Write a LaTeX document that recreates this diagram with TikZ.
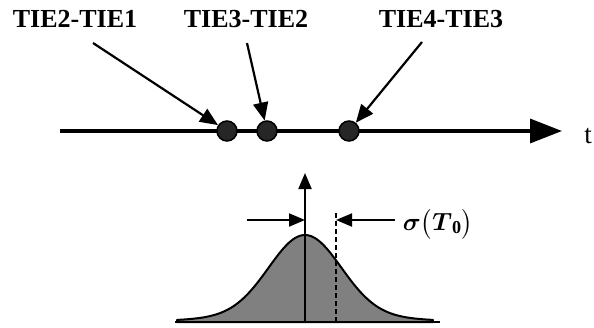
\documentclass[tikz,border=0pt]{standalone}
\usepackage{amsmath}
\usepackage{fontspec}
\setmainfont{Liberation Serif}
\usetikzlibrary{arrows.meta}

\begin{document}
\begin{tikzpicture}[x=1pt,y=-1pt,
    tielabel/.style={font=\fontsize{26}{28}\selectfont\bfseries},
    tiedot/.style={circle,draw=black,fill=black!85,line width=1.5pt,
                   inner sep=0pt,minimum size=20pt},
    pointer/.style={line width=2.2pt,-{Triangle[length=18pt,width=15pt]}},
    timeaxis/.style={line width=3.5pt,-{Triangle[length=32pt,width=24pt]}},
    sigarrow/.style={line width=2pt,-{Triangle[length=16pt,width=13pt]}}]
    \useasboundingbox (0,0) rectangle (594,327);

    % time axis with the three differences
    \coordinate (tstart) at (60,131);
    \coordinate (tend) at (562,131);
    \draw[timeaxis] (tstart) -- (tend);
    \node[font=\fontsize{27}{28}\selectfont] (tlabel) at (588,136) {t};

    \node[tiedot] (dot1) at (227,131) {};
    \node[tiedot] (dot2) at (267,131) {};
    \node[tiedot] (dot3) at (349,131) {};

    \node[tielabel] (lab1) at (75,19) {TIE2-TIE1};
    \node[tielabel] (lab2) at (246,19) {TIE3-TIE2};
    \node[tielabel] (lab3) at (441,19) {TIE4-TIE3};

    \coordinate (tail1) at (93,43);
    \coordinate (tail2) at (247,43);
    \coordinate (tail3) at (422,42);
    \draw[pointer] (tail1) -- (dot1);
    \draw[pointer] (tail2) -- (dot2);
    \draw[pointer] (tail3) -- (dot3);

    % distribution of the differences
    \draw[fill=black!50,line width=2pt,line join=round]
        (177,322) -- plot[domain=-3.2:3.2,samples=81,smooth]
        ({305+40*\x},{322-(80*exp(-0.617*\x*\x)+7*exp(-0.125*\x*\x))})
        -- (433,322) -- cycle;
    \coordinate (bleft) at (175,322);
    \coordinate (bright) at (440,322);
    \draw[line width=2.5pt] (bleft) -- (bright);

    \coordinate (vbase) at (305,322);
    \coordinate (vtop) at (305,173);
    \draw[sigarrow] (vbase) -- (vtop);
    \coordinate (dbase) at (336,322);
    \coordinate (dtop) at (336,213);
    \draw[line width=2pt,dash pattern=on 5pt off 3pt] (dbase) -- (dtop);

    \coordinate (sigl) at (247,220);
    \coordinate (sigm) at (305,220);
    \coordinate (sigr) at (395,220);
    \coordinate (sigd) at (336,220);
    \draw[sigarrow] (sigl) -- (sigm);
    \draw[sigarrow] (sigr) -- (sigd);
    \node[font=\fontsize{26}{28}\selectfont] (sigma) at (438,224)
        {$\boldsymbol{\sigma}\bigl(\boldsymbol{T}_{\mathbf{0}}\bigr)$};
\end{tikzpicture}
\end{document}
